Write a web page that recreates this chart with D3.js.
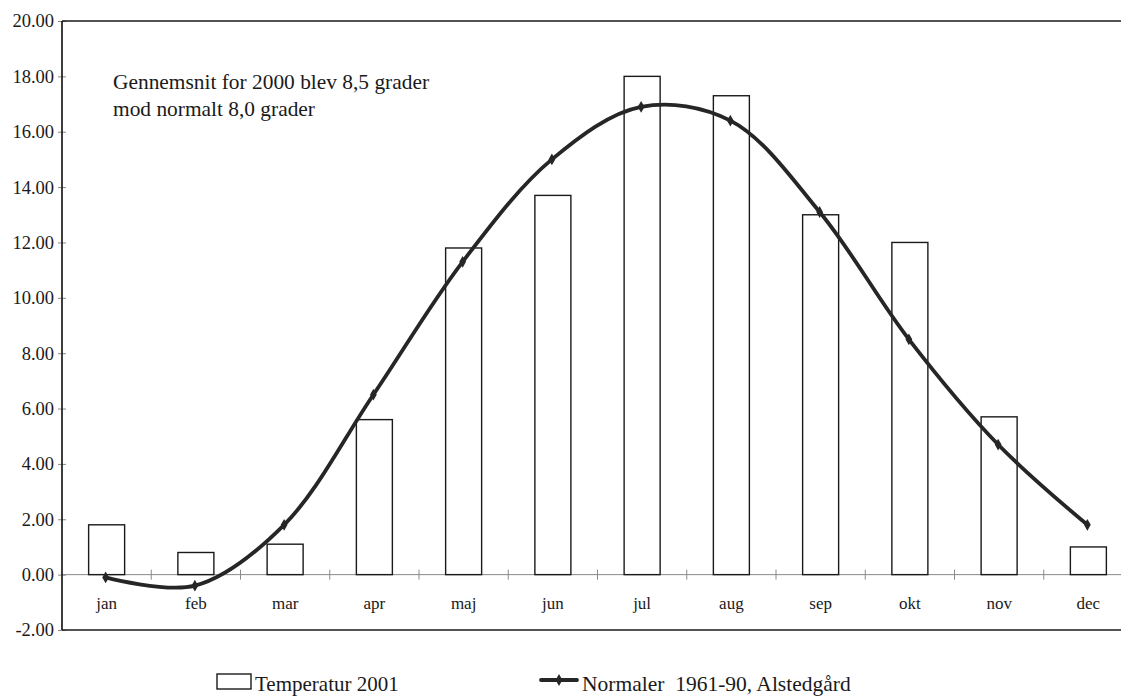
<!DOCTYPE html>
<html>
<head>
<meta charset="utf-8">
<script src="https://cdn.jsdelivr.net/npm/d3@7"></script>
<style>
  html, body { margin: 0; padding: 0; background: #fff; }
  svg { display: block; }
  svg text { font-family: "Liberation Serif", "Times New Roman", serif; }
</style>
</head>
<body>
<svg id="chart" width="1121" height="698"></svg>
<script>
// Monthly categories
const months = ["jan", "feb", "mar", "apr", "maj", "jun", "jul", "aug", "sep", "okt", "nov", "dec"];
// Monthly mean temperature 2001 (bars)
const temp2001 = [1.8, 0.8, 1.1, 5.6, 11.8, 13.7, 18.0, 17.3, 13.0, 12.0, 5.7, 1.0];
// Normal 1961-90, Alstedgård (smoothed line)
const normals = [-0.1, -0.4, 1.8, 6.5, 11.3, 15.0, 16.9, 16.4, 13.1, 8.5, 4.7, 1.8];
// Y axis ticks
const yTicks = [-2, 0, 2, 4, 6, 8, 10, 12, 14, 16, 18, 20];
const seriesNames = ["Temperatur 2001", "Normaler  1961-90, Alstedgård"];
const noteLines = ["Gennemsnit for 2000 blev 8,5 grader", "mod normalt 8,0 grader"];

const svg = d3.select("#chart");
const W = 1121, H = 698;
const plot = { left: 62, top: 21, right: 1133, bottom: 630 };

const x = d3.scaleBand().domain(months).range([plot.left, plot.right]).paddingInner(0).paddingOuter(0);
const y = d3.scaleLinear().domain([-2, 20]).range([plot.bottom, plot.top]);
const barW = 36;
const ink = "#1a1a1a";

// Zero baseline with category separators
svg.append("line")
  .attr("x1", plot.left).attr("x2", W)
  .attr("y1", y(0)).attr("y2", y(0))
  .attr("stroke", "#8a8a8a").attr("stroke-width", 1);

svg.append("g").selectAll("line")
  .data(months.slice(1))
  .join("line")
  .attr("x1", d => x(d)).attr("x2", d => x(d))
  .attr("y1", y(0) - 5).attr("y2", y(0) + 5)
  .attr("stroke", "#8a8a8a").attr("stroke-width", 1);

// Bars
svg.append("g").selectAll("rect")
  .data(months.map((m, i) => ({ m, v: temp2001[i] })))
  .join("rect")
  .attr("x", d => x(d.m) + x.bandwidth() / 2 - barW / 2)
  .attr("y", d => y(d.v))
  .attr("width", barW)
  .attr("height", d => y(0) - y(d.v))
  .attr("fill", "#fff")
  .attr("stroke", ink)
  .attr("stroke-width", 1.4);

// Left axis (hyphen minus, two decimals)
const fmt = d => d.toFixed(2);
const yAxis = d3.axisLeft(y).tickValues(yTicks).tickFormat(fmt).tickSize(0).tickPadding(8);
const ga = svg.append("g").attr("transform", `translate(${plot.left},0)`).call(yAxis);
ga.select(".domain").remove();
ga.attr("font-family", null);
ga.selectAll("text").attr("font-size", 18.5).attr("fill", ink);
ga.selectAll(".tick").append("line")
  .attr("x1", -4).attr("x2", 4).attr("stroke", "#8a8a8a").attr("stroke-width", 1);

// Frame: left, top, bottom
svg.append("line").attr("x1", plot.left).attr("x2", plot.left)
  .attr("y1", plot.top).attr("y2", plot.bottom)
  .attr("stroke", ink).attr("stroke-width", 1.7);
svg.append("line").attr("x1", plot.left).attr("x2", W)
  .attr("y1", plot.top).attr("y2", plot.top)
  .attr("stroke", ink).attr("stroke-width", 1.7);
svg.append("line").attr("x1", plot.left).attr("x2", W)
  .attr("y1", plot.bottom).attr("y2", plot.bottom)
  .attr("stroke", ink).attr("stroke-width", 1.7);

// Month labels
svg.append("g").selectAll("text")
  .data(months)
  .join("text")
  .attr("x", d => x(d) + x.bandwidth() / 2)
  .attr("y", 609)
  .attr("text-anchor", "middle")
  .attr("font-size", 17)
  .attr("fill", ink)
  .text(d => d);

// Smoothed normals line
const pts = months.map((m, i) => [x(m) + x.bandwidth() / 2 - 1, y(normals[i])]);
svg.append("path")
  .attr("d", d3.line().curve(d3.curveCatmullRom.alpha(0.5))(pts))
  .attr("fill", "none")
  .attr("stroke", "#262626")
  .attr("stroke-width", 3.8)
  .attr("stroke-linecap", "round");

svg.append("g").selectAll("path")
  .data(pts)
  .join("path")
  .attr("transform", d => `translate(${d[0]},${d[1]})`)
  .attr("d", d3.symbol(d3.symbolDiamond, 40)())
  .attr("fill", "#262626");

// Annotation
svg.append("g").selectAll("text")
  .data(noteLines)
  .join("text")
  .attr("x", 113)
  .attr("y", (d, i) => 89 + i * 27)
  .attr("font-size", 21.4)
  .attr("fill", ink)
  .text(d => d);

// Legend
const lg = svg.append("g");
lg.append("rect").attr("x", 217).attr("y", 674).attr("width", 34).attr("height", 15)
  .attr("fill", "#fff").attr("stroke", ink).attr("stroke-width", 1.4);
lg.append("text").attr("x", 255).attr("y", 691).attr("font-size", 21).attr("fill", ink).text(seriesNames[0]);
lg.append("line").attr("x1", 541).attr("x2", 577).attr("y1", 680).attr("y2", 680)
  .attr("stroke", "#262626").attr("stroke-width", 3.8).attr("stroke-linecap", "round");
lg.append("path").attr("transform", "translate(559,680)")
  .attr("d", d3.symbol(d3.symbolDiamond, 40)()).attr("fill", "#262626");
lg.append("text").attr("x", 582).attr("y", 691).attr("font-size", 21.5).attr("fill", ink)
  .style("white-space", "pre").text(seriesNames[1]);
</script>
</body>
</html>
